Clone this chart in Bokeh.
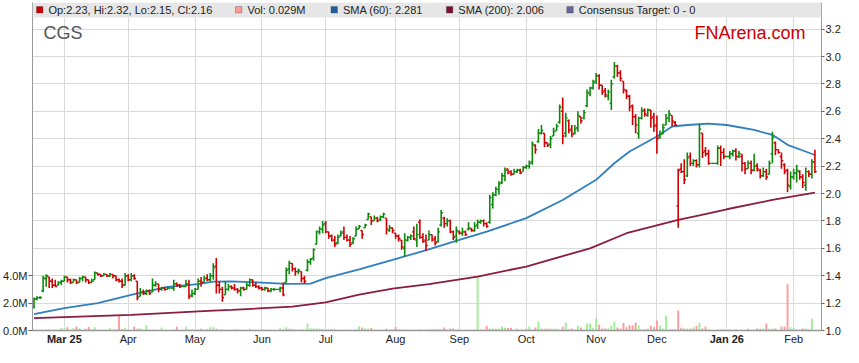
import pandas as pd
from bokeh.plotting import figure
from bokeh.models import (ColumnDataSource, Range1d, LinearAxis, FixedTicker,
                          PrintfTickFormatter, Label, BoxAnnotation)
from bokeh.embed import file_html
from bokeh.resources import INLINE

# ---------------- data ----------------
FIRST_DAY = "2025-02-17"   # first weekday shown; one bar per weekday

opens = [
    1.17,1.23,1.24,1.29,1.38,1.39,1.36,1.33,1.33,1.35,
    1.36,1.39,1.37,1.35,1.37,1.35,1.38,1.39,1.37,1.35,
    1.37,1.42,1.41,1.40,1.41,1.40,1.41,1.40,1.37,1.36,
    1.33,1.40,1.37,1.40,1.36,1.25,1.28,1.27,1.29,1.28,
    1.33,1.34,1.30,1.31,1.30,1.31,1.31,1.34,1.33,1.32,
    1.32,1.34,1.26,1.27,1.30,1.36,1.35,1.38,1.37,1.40,
    1.47,1.33,1.30,1.26,1.30,1.32,1.31,1.30,1.29,1.31,
    1.30,1.33,1.37,1.33,1.32,1.31,1.30,1.31,1.29,1.30,
    1.30,1.30,1.31,1.35,1.45,1.49,1.45,1.43,1.43,1.38,
    1.44,1.50,1.53,1.63,1.72,1.74,1.78,1.72,1.69,1.66,
    1.64,1.69,1.72,1.68,1.66,1.64,1.69,1.74,1.73,1.75,
    1.81,1.83,1.80,1.82,1.81,1.83,1.82,1.73,1.75,1.71,
    1.69,1.66,1.60,1.66,1.68,1.72,1.66,1.79,1.68,1.66,
    1.66,1.70,1.67,1.65,1.77,1.82,1.78,1.80,1.72,1.69,
    1.72,1.71,1.72,1.74,1.74,1.73,1.77,1.79,1.80,1.78,
    1.79,1.92,1.99,2.03,2.08,2.13,2.18,2.16,2.14,2.16,
    2.17,2.16,2.19,2.20,2.23,2.35,2.38,2.44,2.44,2.37,
    2.36,2.42,2.46,2.52,2.60,2.44,2.53,2.47,2.44,2.48,
    2.56,2.55,2.64,2.73,2.77,2.82,2.86,2.79,2.75,2.71,
    2.66,2.85,2.93,2.88,2.82,2.75,2.71,2.64,2.56,2.44,
    2.55,2.61,2.57,2.61,2.56,2.50,2.41,2.44,2.50,2.55,
    2.57,2.52,1.91,2.18,2.16,2.13,2.27,2.22,2.24,2.21,
    2.44,2.31,2.29,2.22,2.22,2.22,2.33,2.30,2.27,2.27,
    2.29,2.31,2.27,2.27,2.22,2.18,2.22,2.17,2.20,2.17,
    2.13,2.16,2.14,2.29,2.37,2.32,2.27,2.21,2.17,2.05,
    2.12,2.15,2.16,2.12,2.06,2.16,2.14,2.23,
]
highs = [
    1.24,1.25,1.25,1.40,1.41,1.39,1.38,1.37,1.36,1.37,
    1.40,1.39,1.38,1.38,1.37,1.39,1.40,1.39,1.37,1.38,
    1.43,1.42,1.41,1.42,1.41,1.42,1.41,1.40,1.38,1.38,
    1.42,1.41,1.42,1.41,1.36,1.31,1.30,1.30,1.30,1.38,
    1.36,1.34,1.32,1.32,1.32,1.31,1.37,1.35,1.34,1.32,
    1.37,1.37,1.30,1.31,1.38,1.39,1.40,1.41,1.42,1.49,
    1.53,1.36,1.32,1.36,1.34,1.33,1.34,1.31,1.32,1.32,
    1.35,1.38,1.37,1.35,1.33,1.32,1.32,1.31,1.31,1.31,
    1.30,1.32,1.35,1.46,1.51,1.49,1.46,1.45,1.43,1.40,
    1.52,1.53,1.60,1.73,1.76,1.80,1.80,1.72,1.70,1.69,
    1.70,1.73,1.76,1.70,1.69,1.68,1.76,1.77,1.73,1.78,
    1.86,1.83,1.84,1.83,1.84,1.86,1.82,1.77,1.75,1.71,
    1.70,1.66,1.71,1.69,1.70,1.76,1.78,1.81,1.71,1.70,
    1.73,1.70,1.69,1.75,1.88,1.83,1.82,1.81,1.73,1.76,
    1.73,1.75,1.73,1.79,1.75,1.79,1.81,1.81,1.81,1.79,
    1.99,2.01,2.05,2.09,2.15,2.19,2.18,2.17,2.18,2.18,
    2.18,2.20,2.21,2.24,2.38,2.36,2.47,2.50,2.44,2.37,
    2.42,2.48,2.51,2.65,2.70,2.59,2.54,2.50,2.50,2.60,
    2.56,2.61,2.76,2.78,2.83,2.88,2.87,2.79,2.77,2.76,
    2.83,2.96,2.94,2.90,2.82,2.76,2.72,2.65,2.58,2.56,
    2.63,2.62,2.62,2.61,2.59,2.57,2.46,2.51,2.58,2.61,
    2.57,2.53,2.18,2.22,2.25,2.30,2.30,2.25,2.25,2.51,
    2.44,2.34,2.32,2.22,2.22,2.35,2.35,2.33,2.27,2.31,
    2.32,2.33,2.31,2.29,2.23,2.24,2.24,2.29,2.22,2.18,
    2.19,2.18,2.24,2.45,2.38,2.32,2.30,2.22,2.18,2.16,
    2.18,2.21,2.17,2.14,2.19,2.17,2.25,2.32,
]
lows = [
    1.16,1.22,1.23,1.28,1.32,1.31,1.31,1.32,1.33,1.33,
    1.36,1.35,1.34,1.35,1.34,1.35,1.36,1.35,1.34,1.35,
    1.37,1.40,1.39,1.40,1.39,1.39,1.38,1.36,1.35,1.31,
    1.33,1.36,1.36,1.37,1.22,1.25,1.26,1.26,1.26,1.28,
    1.32,1.28,1.29,1.29,1.30,1.31,1.29,1.32,1.31,1.32,
    1.32,1.23,1.24,1.26,1.30,1.32,1.35,1.36,1.36,1.37,
    1.27,1.27,1.21,1.26,1.29,1.30,1.29,1.27,1.25,1.29,
    1.30,1.32,1.32,1.31,1.30,1.29,1.29,1.28,1.28,1.29,
    1.30,1.28,1.25,1.35,1.41,1.43,1.40,1.41,1.35,1.34,
    1.43,1.48,1.51,1.63,1.70,1.71,1.71,1.67,1.65,1.61,
    1.63,1.69,1.66,1.65,1.61,1.63,1.69,1.74,1.67,1.75,
    1.81,1.77,1.80,1.79,1.80,1.82,1.70,1.72,1.71,1.67,
    1.65,1.59,1.54,1.65,1.66,1.66,1.61,1.67,1.64,1.58,
    1.66,1.65,1.62,1.64,1.76,1.75,1.76,1.71,1.66,1.64,
    1.70,1.69,1.69,1.73,1.72,1.72,1.74,1.78,1.76,1.75,
    1.78,1.89,1.98,1.99,2.07,2.09,2.14,2.13,2.14,2.15,
    2.14,2.16,2.18,2.18,2.21,2.29,2.37,2.43,2.34,2.34,
    2.33,2.42,2.46,2.51,2.36,2.41,2.44,2.41,2.43,2.45,
    2.51,2.54,2.63,2.71,2.76,2.80,2.76,2.72,2.70,2.68,
    2.61,2.84,2.85,2.82,2.73,2.69,2.60,2.50,2.44,2.40,
    2.54,2.56,2.56,2.48,2.45,2.29,2.40,2.43,2.50,2.52,
    2.49,2.49,1.75,2.15,2.07,2.12,2.20,2.20,2.19,2.19,
    2.26,2.27,2.21,2.22,2.22,2.21,2.20,2.25,2.27,2.25,
    2.27,2.24,2.26,2.16,2.14,2.18,2.14,2.16,2.16,2.11,
    2.12,2.10,2.14,2.22,2.28,2.29,2.18,2.14,2.01,2.03,
    2.10,2.08,2.10,2.04,2.02,2.12,2.11,2.15,
]
closes = [
    1.23,1.24,1.24,1.38,1.40,1.36,1.33,1.32,1.35,1.36,
    1.39,1.37,1.35,1.37,1.35,1.38,1.39,1.37,1.35,1.36,
    1.42,1.41,1.40,1.41,1.40,1.41,1.40,1.37,1.36,1.33,
    1.40,1.37,1.40,1.38,1.24,1.28,1.27,1.29,1.27,1.33,
    1.34,1.30,1.31,1.30,1.31,1.31,1.34,1.33,1.32,1.32,
    1.34,1.25,1.27,1.30,1.36,1.35,1.38,1.37,1.40,1.46,
    1.33,1.30,1.24,1.30,1.32,1.31,1.30,1.29,1.31,1.30,
    1.33,1.37,1.33,1.32,1.31,1.30,1.31,1.29,1.30,1.30,
    1.30,1.31,1.26,1.44,1.49,1.45,1.43,1.44,1.38,1.36,
    1.50,1.52,1.59,1.72,1.74,1.77,1.72,1.69,1.66,1.63,
    1.68,1.71,1.68,1.66,1.63,1.67,1.74,1.76,1.70,1.77,
    1.85,1.80,1.82,1.80,1.83,1.85,1.74,1.75,1.73,1.69,
    1.67,1.61,1.66,1.68,1.69,1.67,1.70,1.68,1.65,1.62,
    1.70,1.66,1.64,1.72,1.86,1.78,1.80,1.72,1.68,1.73,
    1.71,1.72,1.70,1.75,1.73,1.76,1.79,1.80,1.78,1.76,
    1.97,1.99,2.03,2.07,2.13,2.17,2.15,2.14,2.16,2.17,
    2.15,2.19,2.20,2.22,2.36,2.32,2.44,2.46,2.37,2.35,
    2.40,2.45,2.49,2.63,2.42,2.55,2.46,2.43,2.47,2.57,
    2.53,2.59,2.74,2.77,2.81,2.86,2.79,2.74,2.72,2.74,
    2.80,2.93,2.88,2.84,2.76,2.71,2.63,2.56,2.50,2.55,
    2.60,2.58,2.61,2.55,2.49,2.40,2.43,2.48,2.55,2.58,
    2.53,2.50,2.17,2.16,2.10,2.26,2.22,2.24,2.21,2.47,
    2.30,2.29,2.22,2.22,2.22,2.33,2.30,2.27,2.27,2.29,
    2.31,2.27,2.29,2.22,2.18,2.22,2.17,2.20,2.18,2.13,
    2.16,2.12,2.22,2.41,2.32,2.30,2.24,2.16,2.06,2.12,
    2.15,2.17,2.12,2.08,2.16,2.14,2.23,2.16,
]
volumes_m = [
    0.05,0.04,0.03,0.06,0.05,0.07,0.04,0.06,0.05,0.17,
    0.17,0.24,0.06,0.17,0.30,0.17,0.05,0.12,0.28,0.10,
    0.24,0.05,0.04,0.06,0.05,0.17,0.06,0.08,1.05,0.10,
    0.20,0.06,0.05,0.28,0.12,0.17,0.05,0.38,0.06,0.05,
    0.05,0.04,0.21,0.05,0.04,0.00,0.05,0.28,0.04,0.00,
    0.28,0.08,0.06,0.05,0.10,0.12,0.06,0.07,0.24,0.24,
    0.12,0.06,0.08,0.05,0.06,0.04,0.10,0.05,0.06,0.05,
    0.04,0.12,0.06,0.05,0.04,0.06,0.04,0.05,0.03,0.04,
    0.00,0.17,0.08,0.24,0.15,0.10,0.06,0.05,0.08,0.04,
    0.52,0.17,0.15,0.17,0.14,0.12,0.06,0.05,0.10,0.07,
    0.06,0.05,0.04,0.06,0.05,0.04,0.10,0.30,0.22,0.17,
    0.15,0.18,0.06,0.04,0.05,0.06,0.12,0.06,0.05,0.26,
    0.10,0.06,0.08,0.05,0.06,0.05,0.04,0.07,0.05,0.06,
    0.10,0.08,0.10,0.12,0.10,0.22,0.06,0.15,0.15,0.05,
    0.05,0.04,0.06,0.05,0.03,0.08,4.00,0.08,0.06,0.34,
    0.15,0.15,0.12,0.15,0.29,0.20,0.18,0.20,0.06,0.15,
    0.05,0.06,0.15,0.29,0.07,0.22,0.63,0.15,0.12,0.15,
    0.15,0.15,0.15,0.10,0.27,0.59,0.10,0.15,0.06,0.34,
    0.22,0.08,0.51,0.51,0.20,0.88,0.44,0.15,0.15,0.15,
    0.34,0.66,0.22,0.15,0.54,0.24,0.39,0.39,0.59,0.34,
    0.07,0.10,0.15,0.34,0.24,0.73,0.34,0.15,1.07,0.07,
    0.07,0.08,1.46,0.20,0.15,0.15,0.15,0.22,0.32,0.54,
    0.15,0.29,0.07,0.00,0.00,0.07,0.07,0.07,0.00,0.07,
    0.07,0.07,0.04,0.05,0.06,0.15,0.06,0.07,0.15,0.12,
    0.15,0.51,0.15,0.15,0.15,0.03,0.29,0.29,3.37,0.24,
    0.22,0.07,0.05,0.15,0.15,0.07,0.88,0.029,
]
# moving averages, read at sample bars (bar index, value)
sma60_bar = [0, 10, 21, 33, 44, 54, 59, 65, 75, 83, 91, 96, 107, 118, 128, 140,
             149, 162, 174, 185, 191, 196, 205, 210, 215, 222, 228, 237, 243, 248, 253, 257]
sma60_val = [1.120, 1.163, 1.200, 1.266, 1.318, 1.338, 1.357, 1.358, 1.350, 1.340,
             1.342, 1.382, 1.447, 1.515, 1.580, 1.661, 1.722, 1.820, 1.953, 2.100,
             2.221, 2.307, 2.416, 2.489, 2.500, 2.510, 2.500, 2.464, 2.428, 2.355,
             2.314, 2.281]
sma200_bar = [0, 32, 59, 65, 85, 96, 107, 118, 130, 146, 162, 183, 195, 212, 219, 228, 243, 257]
sma200_val = [1.090, 1.114, 1.145, 1.150, 1.175, 1.205, 1.262, 1.305, 1.338, 1.394,
              1.467, 1.600, 1.710, 1.807, 1.840, 1.885, 1.953, 2.006]

month_labels = ["Mar 25", "Apr", "May", "Jun", "Jul", "Aug", "Sep", "Oct",
                "Nov", "Dec", "Jan 26", "Feb"]
price_ticks = [1.0, 1.2, 1.4, 1.6, 1.8, 2.0, 2.2, 2.4, 2.6, 2.8, 3.0, 3.2]
volume_ticks_m = [0, 2, 4]

ticker_name = "CGS"
brand = "FNArena.com"
legend_items = [
    ("Op:2.23, Hi:2.32, Lo:2.15, Cl:2.16", "#cc0000"),
    ("Vol: 0.029M", "#ff9999"),
    ("SMA (60): 2.281", "#1f5f9f"),
    ("SMA (200): 2.006", "#7a1030"),
    ("Consensus Target: 0 - 0", "#666699"),
]

# ---------------- layout constants ----------------
FONT = "Liberation Sans"
W, H = 843, 347
TOP, BOTTOM = 2, 17
FRAME_H = H - TOP - BOTTOM
PX_PER_UNIT = 137.0      # px per 1.0 price unit
Y0 = 1.0
Y1 = Y0 + FRAME_H / PX_PER_UNIT
VOL_PER_UNIT = 10.0      # millions per 1.0 price unit
REF_X0, REF_DX = 32.5, 3.054   # px of bar 0 and px per bar
FRAME_LEFT, FRAME_RIGHT = 31, 824
X_START = (FRAME_LEFT - REF_X0) / REF_DX
X_END = X_START + (FRAME_RIGHT - FRAME_LEFT) / REF_DX


def xi(px):
    return (px - REF_X0) / REF_DX


def yd(px_from_top):
    return Y1 - px_from_top / PX_PER_UNIT


GREEN, RED = "#0a8a0a", "#d00000"
VUP, VDOWN, VFLAT = "#99f28f", "#ff9a9a", "#808080"

n = len(closes)
dates = pd.bdate_range(FIRST_DAY, periods=n)
xs = list(range(n))
bar_col, vol_col = [], []
for i in range(n):
    prev = closes[i - 1] if i > 0 else opens[0]
    if closes[i] > prev:
        bar_col.append(GREEN); vol_col.append(VUP)
    elif closes[i] < prev:
        bar_col.append(RED); vol_col.append(VDOWN)
    else:
        bar_col.append(GREEN); vol_col.append(VFLAT)

TICK = 0.6
src = ColumnDataSource(dict(
    x=xs, xl=[x - TICK for x in xs], xr=[x + TICK for x in xs],
    o=opens, h=highs, l=lows, c=closes, col=bar_col,
    v=volumes_m, vcol=vol_col))

month_ticks = [i for i in range(1, n) if dates[i].month != dates[i - 1].month]
year_ticks = [t for t, lab in zip(month_ticks, month_labels) if " " in lab]

p = figure(width=W, height=H, output_backend="svg", toolbar_location=None,
           x_range=Range1d(X_START, X_END), y_range=Range1d(Y0, Y1),
           y_axis_location="right", min_border=0, min_border_top=TOP,
           min_border_bottom=BOTTOM,
           background_fill_color="white", border_fill_color="white")
p.outline_line_color = None
p.extra_y_ranges = {"vol": Range1d(0, (Y1 - Y0) * VOL_PER_UNIT)}

p.xgrid.grid_line_color = "#d9d9d9"
p.ygrid.grid_line_color = "#d9d9d9"


def style_labels(ax):
    ax.major_label_text_font = FONT
    ax.major_label_text_font_size = "11px"
    ax.major_label_text_color = "#222222"


# x axis (months, normal weight)
xa = p.xaxis[0]
xa.ticker = FixedTicker(ticks=month_ticks)
xa.major_label_overrides = {t: ("" if " " in lab else lab) for t, lab in zip(month_ticks, month_labels)}
xa.major_tick_out = 0
xa.major_tick_in = 0
xa.minor_tick_out = 0
xa.major_label_standoff = 2
xa.axis_line_color = "#999999"
xa.axis_line_width = 1.5
style_labels(xa)

# second bottom axis for the bold year labels, pulled up onto the first row
xb = LinearAxis(ticker=FixedTicker(ticks=year_ticks))
xb.major_label_overrides = {t: lab for t, lab in zip(month_ticks, month_labels) if " " in lab}
xb.major_tick_out = 0
xb.major_tick_in = 0
xb.minor_tick_out = 0
xb.axis_line_color = None
xb.major_label_standoff = -15
style_labels(xb)
xb.major_label_text_font_style = "bold"
p.add_layout(xb, "below")

# right price axis
ya = p.yaxis[0]
ya.ticker = FixedTicker(ticks=price_ticks)
ya.formatter = PrintfTickFormatter(format="%.1f")
ya.major_tick_out = 3
ya.major_tick_in = 0
ya.minor_tick_out = 0
ya.major_label_standoff = 1
ya.axis_line_color = "#999999"
ya.major_tick_line_color = "#666666"
style_labels(ya)

# left volume axis
va = LinearAxis(y_range_name="vol", ticker=FixedTicker(ticks=volume_ticks_m),
                formatter=PrintfTickFormatter(format="%.1fM"))
va.major_tick_out = 4
va.major_tick_in = 0
va.minor_tick_out = 0
va.major_label_standoff = 1
va.axis_line_color = "#999999"
va.major_tick_line_color = "#666666"
style_labels(va)
p.add_layout(va, "left")

# volume bars
p.vbar(x="x", top="v", bottom=0, width=0.62, fill_color="vcol", line_color=None,
       source=src, y_range_name="vol")

# moving averages
p.line(sma200_bar, sma200_val, line_color="#8b1c3f", line_width=1.8)
p.line(sma60_bar, sma60_val, line_color="#2f7fbf", line_width=1.8)

# OHLC bars
p.segment(x0="x", y0="l", x1="x", y1="h", line_color="col", line_width=1.6, source=src)
p.segment(x0="xl", y0="o", x1="x", y1="o", line_color="col", line_width=1.4, source=src)
p.segment(x0="x", y0="c", x1="xr", y1="c", line_color="col", line_width=1.4, source=src)

# header band with legend
p.add_layout(BoxAnnotation(bottom=yd(15), fill_color="#e6e6e6", fill_alpha=1.0,
                           line_color=None))
sq_px = [35, 235, 331, 447, 568]
for (txt, colr), sx in zip(legend_items, sq_px):
    p.add_layout(BoxAnnotation(left=xi(sx), right=xi(sx + 6.5), top=yd(4), bottom=yd(10.5),
                               fill_color=colr, fill_alpha=1.0, line_color="#333333",
                               line_width=1))
    p.add_layout(Label(x=xi(sx + 12), y=yd(7.5), text=txt, text_font=FONT,
                       text_font_size="11px", text_color="#222222",
                       text_baseline="middle"))

p.add_layout(Label(x=xi(42), y=yd(30), text=ticker_name, text_font=FONT,
                   text_font_size="18px", text_color="#555555", text_baseline="middle"))
p.add_layout(Label(x=xi(808), y=yd(30), text=brand, text_font=FONT,
                   text_font_size="18px", text_color="#cc0000", text_align="right",
                   text_baseline="middle"))

open("out.html", "w").write(file_html(p, INLINE))
